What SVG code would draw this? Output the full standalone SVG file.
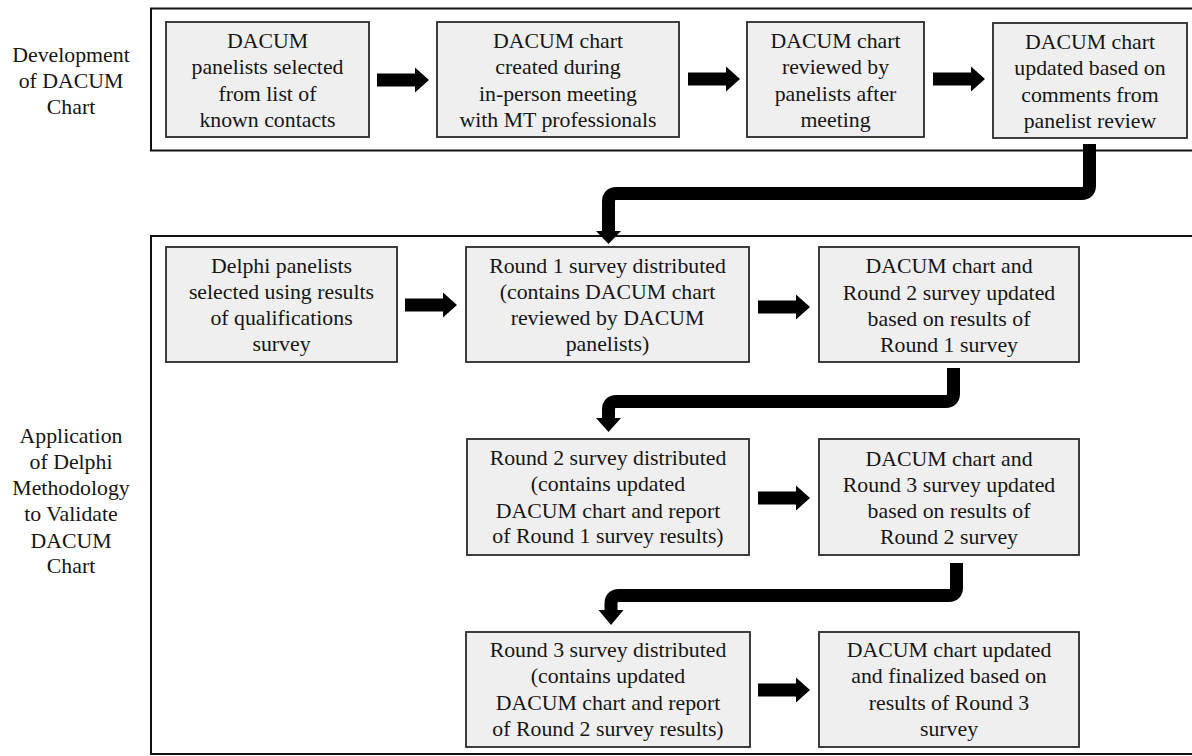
<svg xmlns="http://www.w3.org/2000/svg" width="1192" height="756" viewBox="0 0 1192 756">
<style>
.frame{fill:none;stroke:#111;stroke-width:2}
.box{fill:#efefef;stroke:#2a2a2a;stroke-width:1.8}
text{font-family:'Liberation Serif','Tinos','Times New Roman','DejaVu Serif',serif;font-size:21.8px;fill:#151515;text-anchor:middle}
.elbow{fill:none;stroke:#000;stroke-width:13}
.head{fill:#000}
</style>
<defs>
<path id="arr" d="M0,-6.5 H38 V-12.5 L52,0 L38,12.5 V6.5 H0 Z" fill="#000"/>
</defs>
<rect width="1192" height="756" fill="#fff"/>
<g id="frames">
<rect class="frame" x="151" y="8.5" width="1100" height="142"/>
<rect class="frame" x="151" y="236" width="1100" height="518"/>
</g>
<g id="label-dev">
<text x="71" y="62">Development</text>
<text x="71" y="88">of DACUM</text>
<text x="71" y="114">Chart</text>
</g>
<g id="label-app">
<text x="71" y="443">Application</text>
<text x="71" y="469">of Delphi</text>
<text x="71" y="495">Methodology</text>
<text x="71" y="521">to Validate</text>
<text x="71" y="548">DACUM</text>
<text x="71" y="573">Chart</text>
</g>
<g id="n1">
<rect class="box" x="166" y="22" width="203" height="115"/>
<text x="267.5" y="48">DACUM</text>
<text x="267.5" y="74">panelists selected</text>
<text x="267.5" y="101">from list of</text>
<text x="267.5" y="127">known contacts</text>
</g>
<g id="n2">
<rect class="box" x="437" y="22" width="242" height="115"/>
<text x="558" y="48">DACUM chart</text>
<text x="558" y="74">created during</text>
<text x="558" y="101">in-person meeting</text>
<text x="558" y="127">with MT professionals</text>
</g>
<g id="n3">
<rect class="box" x="747" y="22" width="177" height="115"/>
<text x="835.5" y="48">DACUM chart</text>
<text x="835.5" y="74">reviewed by</text>
<text x="835.5" y="101">panelists after</text>
<text x="835.5" y="127">meeting</text>
</g>
<g id="n4">
<rect class="box" x="993" y="23" width="194" height="115"/>
<text x="1090" y="49">DACUM chart</text>
<text x="1090" y="75">updated based on</text>
<text x="1090" y="102">comments from</text>
<text x="1090" y="128">panelist review</text>
</g>
<g id="n5">
<rect class="box" x="166" y="247" width="231" height="115"/>
<text x="281.5" y="273">Delphi panelists</text>
<text x="281.5" y="299">selected using results</text>
<text x="281.5" y="325">of qualifications</text>
<text x="281.5" y="351">survey</text>
</g>
<g id="n6">
<rect class="box" x="466" y="247" width="283" height="115"/>
<text x="607.5" y="273">Round 1 survey distributed</text>
<text x="607.5" y="299">(contains DACUM chart</text>
<text x="607.5" y="325">reviewed by DACUM</text>
<text x="607.5" y="351">panelists)</text>
</g>
<g id="n7">
<rect class="box" x="819" y="247" width="260" height="115"/>
<text x="949" y="273">DACUM chart and</text>
<text x="949" y="300">Round 2 survey updated</text>
<text x="949" y="326">based on results of</text>
<text x="949" y="352">Round 1 survey</text>
</g>
<g id="n8">
<rect class="box" x="467" y="439" width="282" height="116"/>
<text x="608" y="465">Round 2 survey distributed</text>
<text x="608" y="491">(contains updated</text>
<text x="608" y="518">DACUM chart and report</text>
<text x="608" y="543">of Round 1 survey results)</text>
</g>
<g id="n9">
<rect class="box" x="819" y="439" width="260" height="116"/>
<text x="949" y="466">DACUM chart and</text>
<text x="949" y="492">Round 3 survey updated</text>
<text x="949" y="518">based on results of</text>
<text x="949" y="544">Round 2 survey</text>
</g>
<g id="n10">
<rect class="box" x="466" y="632" width="284" height="115"/>
<text x="608" y="657">Round 3 survey distributed</text>
<text x="608" y="683">(contains updated</text>
<text x="608" y="710">DACUM chart and report</text>
<text x="608" y="736">of Round 2 survey results)</text>
</g>
<g id="n11">
<rect class="box" x="819" y="632" width="260" height="115"/>
<text x="949" y="657">DACUM chart updated</text>
<text x="949" y="683">and finalized based on</text>
<text x="949" y="710">results of Round 3</text>
<text x="949" y="736">survey</text>
</g>
<g id="connectors">
<use href="#arr" x="377" y="80"/>
<use href="#arr" x="688" y="79"/>
<use href="#arr" x="933" y="79"/>
<use href="#arr" x="405" y="305"/>
<use href="#arr" x="758" y="307"/>
<use href="#arr" x="758" y="498"/>
<use href="#arr" x="758" y="690"/>
<path class="elbow" d="M1089.5,144 V185.5 Q1089.5,193.5 1081.5,193.5 H616.5 Q608.5,193.5 608.5,201.5 V232"/>
<polygon class="head" points="596,231 621,231 608.5,244"/>
<path class="elbow" d="M953.5,368 V393.5 Q953.5,401.5 945.5,401.5 H616.5 Q608.5,401.5 608.5,409.5 V419"/>
<polygon class="head" points="596,418 621,418 608.5,432"/>
<path class="elbow" d="M956.5,563 V587.5 Q956.5,595.5 948.5,595.5 H619 Q611,595.5 611,603.5 V611"/>
<polygon class="head" points="598.5,610 623.5,610 611,625"/>
</g>
</svg>
